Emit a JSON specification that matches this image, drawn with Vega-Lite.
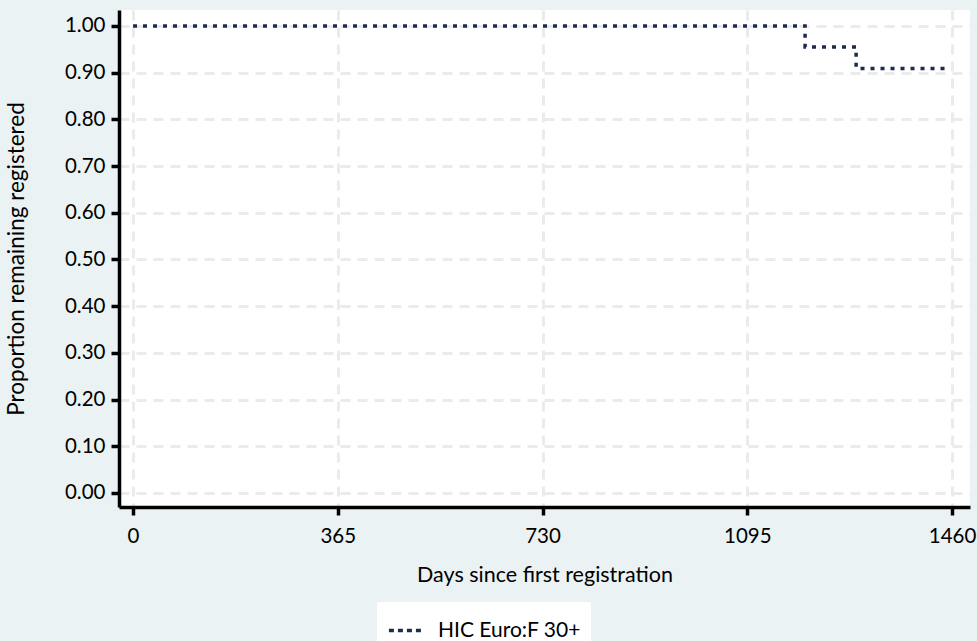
{
  "$schema": "https://vega.github.io/schema/vega-lite/v6.json",
  "autosize": "none",
  "width": 851,
  "height": 497,
  "padding": {"left": 119, "top": 10, "right": 7, "bottom": 134},
  "background": "#EAF2F3",
  "config": {
    "view": {"fill": "white", "stroke": null},
    "font": "Lato",
    "axis": {
      "domainColor": "black",
      "domainWidth": 3.5,
      "tickColor": "black",
      "tickWidth": 3.5,
      "tickSize": 8,
      "labelFont": "Lato",
      "labelFontSize": 20.5,
      "labelColor": "black",
      "titleFont": "Lato",
      "titleFontWeight": "normal",
      "titleColor": "black",
      "gridColor": "#EBEBEB",
      "gridWidth": 3,
      "gridDash": [10, 7]
    }
  },
  "data": {
    "values": [
      {"days": 0, "prop": 1.0, "group": "HIC Euro:F 30+"},
      {"days": 1198, "prop": 0.955, "group": "HIC Euro:F 30+"},
      {"days": 1289, "prop": 0.909, "group": "HIC Euro:F 30+"},
      {"days": 1453, "prop": 0.909, "group": "HIC Euro:F 30+"}
    ]
  },
  "mark": {"type": "line", "interpolate": "step-after", "strokeWidth": 3.5, "strokeDash": [4, 6], "clip": true},
  "encoding": {
    "x": {
      "field": "days",
      "type": "quantitative",
      "scale": {"domain": [-25, 1492], "nice": false, "zero": false},
      "axis": {
        "values": [0, 365, 730, 1095, 1460],
        "format": "d",
        "title": "Days since first registration",
        "titleFontSize": 21.5,
        "labelPadding": 11,
        "titlePadding": 18,
        "grid": true
      }
    },
    "y": {
      "field": "prop",
      "type": "quantitative",
      "scale": {"domain": [-0.03, 1.034], "nice": false, "zero": false},
      "axis": {
        "values": [0, 0.1, 0.2, 0.3, 0.4, 0.5, 0.6, 0.7, 0.8, 0.9, 1.0],
        "format": ".2f",
        "title": "Proportion remaining registered",
        "titleFontSize": 22.5,
        "labelPadding": 6,
        "titlePadding": 36,
        "grid": true
      }
    },
    "color": {
      "field": "group",
      "type": "nominal",
      "scale": {"range": ["#1C2B4F"]},
      "legend": {
        "title": null,
        "orient": "none",
        "legendX": 258,
        "legendY": 592,
        "fillColor": "white",
        "padding": 10,
        "symbolType": "stroke",
        "symbolSize": 1100,
        "symbolStrokeWidth": 3.5,
        "symbolDash": [5, 4],
        "labelFont": "Lato",
        "labelFontSize": 21,
        "labelColor": "black",
        "labelOffset": 14,
        "labelExpr": "datum.label + '\u00a0\u00a0\u00a0\u00a0'"
      }
    }
  }
}
